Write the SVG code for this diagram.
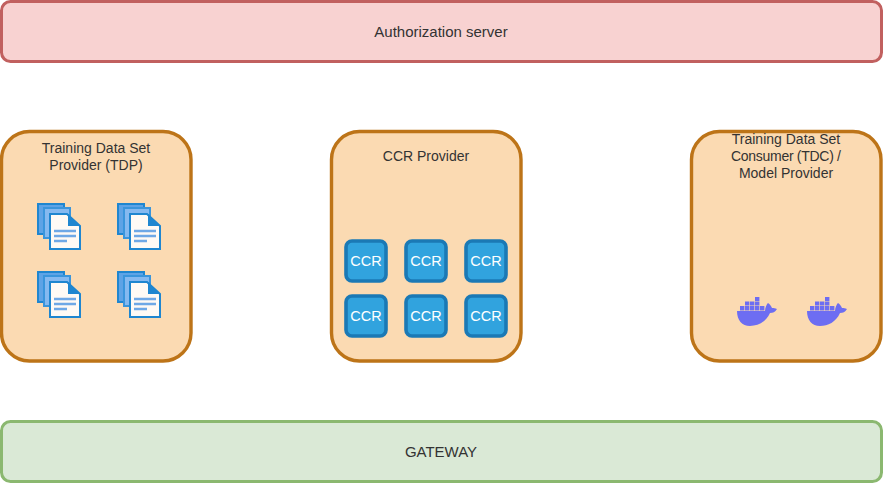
<svg xmlns="http://www.w3.org/2000/svg" width="883" height="483" viewBox="0 0 883 483">
<style>
text{font-family:"Liberation Sans",Arial,sans-serif;font-size:14px;fill:#333;text-anchor:middle}
.wide{font-size:15px}
.box{fill:#fbdab2;stroke:#bd7418;stroke-width:3.400}
.ccr{fill:#31a3de;stroke:#1b79b5;stroke-width:3.600}
.ccrt{fill:#fff;font-size:14.500px}
</style>
<defs>
<g id="doc">
<rect x="38" y="204" width="26" height="30" fill="#5ea3e6" stroke="#1f86d0" stroke-width="2"/>
<rect x="44" y="208" width="26" height="30" fill="#85b9f0" stroke="#3a95dc" stroke-width="2"/>
<path d="M50 214H67L80 226V249H50Z" fill="#fffaf5" stroke="#1f86d0" stroke-width="2"/>
<path d="M68 214L80 226H68Z" fill="#1f86d0"/>
<path d="M54 231H76M54 236H76M54 241H67" fill="none" stroke="#6fa8e6" stroke-width="2.400"/>
</g>
<g id="whale" fill="#6d6df2">
<path d="M737 311H765C765 307 767 304 768 303C770 304 771 306 772 308C774 308 775 308 777 309C775 312 773 313 770 313C766 322 758 326 750 326C742 326 737 320 737 311Z"/>
<path d="M740 306h4.400v4.500h-4.400zM745 306h4.400v4.500h-4.400zM750 306h4.400v4.500h-4.400zM755 306h4.400v4.500h-4.400zM760 306h4.400v4.500h-4.400zM745 301.500h4.400v4h-4.400zM750 301.500h4.400v4h-4.400zM755 301.500h4.400v4h-4.400zM755 297h4.400v4h-4.400z"/>
</g>
<g id="ccrBox">
<rect class="ccr" x="-20" y="-20" width="40" height="40" rx="6"/>
<text class="ccrt" y="5">CCR</text>
</g>
</defs>
<g id="connectors"></g>
<g id="auth">
<rect x="1.500" y="1.500" width="880" height="60" rx="9" fill="#f8d2d1" stroke="#c1605f" stroke-width="3"/>
<text class="wide" x="441" y="37">Authorization server</text>
</g>
<g id="gateway">
<rect x="1.500" y="421.500" width="880" height="60" rx="9" fill="#dae9d6" stroke="#8bb870" stroke-width="3"/>
<text class="wide" x="441" y="457">GATEWAY</text>
</g>
<g id="tdp">
<rect class="box" x="1.500" y="131.500" width="189.500" height="229.500" rx="28"/>
<text x="96" y="153">Training Data Set</text>
<text x="96" y="170">Provider (TDP)</text>
<use href="#doc"/>
<use href="#doc" x="80"/>
<use href="#doc" y="68"/>
<use href="#doc" x="80" y="68"/>
</g>
<g id="ccr-provider">
<rect class="box" x="331.500" y="131.500" width="189.500" height="229.500" rx="28"/>
<text x="426" y="161">CCR Provider</text>
<use href="#ccrBox" x="366" y="261"/>
<use href="#ccrBox" x="426" y="261"/>
<use href="#ccrBox" x="486" y="261"/>
<use href="#ccrBox" x="366" y="316"/>
<use href="#ccrBox" x="426" y="316"/>
<use href="#ccrBox" x="486" y="316"/>
</g>
<g id="tdc">
<rect class="box" x="691.500" y="131.500" width="189.500" height="229.500" rx="28"/>
<text x="786" y="144">Training Data Set</text>
<text x="786" y="161" textLength="110">Consumer (TDC) /</text>
<text x="786" y="178">Model Provider</text>
<use href="#whale"/>
<use href="#whale" x="70"/>
</g>
</svg>
